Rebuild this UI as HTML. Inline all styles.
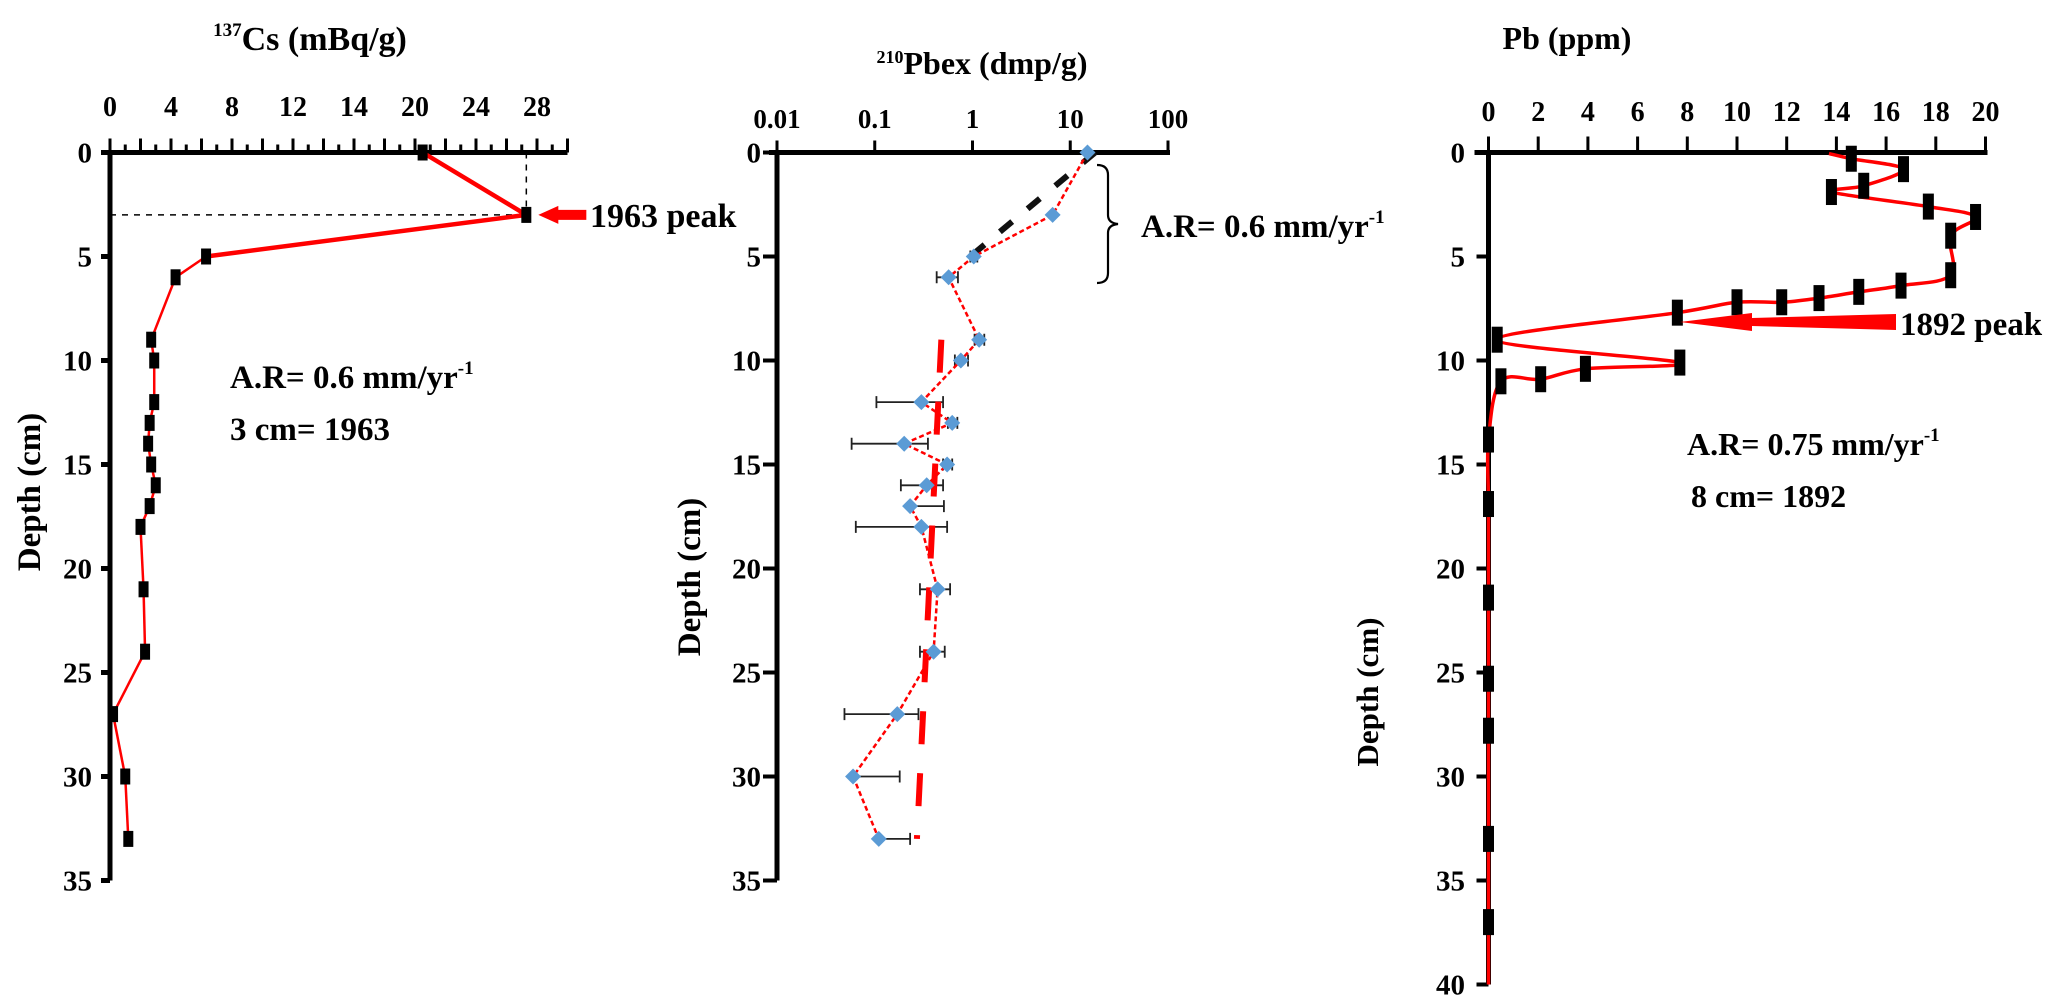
<!DOCTYPE html>
<html><head><meta charset="utf-8">
<style>
html,body{margin:0;padding:0;background:#fff;}
svg{display:block;font-family:"Liberation Serif",serif;font-weight:bold;}
</style></head>
<body>
<svg id="chart" width="2067" height="1007" viewBox="0 0 2067 1007" xmlns="http://www.w3.org/2000/svg">
<g id="p1"></g>
<g id="p2"></g>
<g id="p3"></g>
</svg>
<script>
// ---------- Panel 1: 137Cs ----------
const csDepth = [0, 3, 5, 6, 9, 10, 12, 13, 14, 15, 16, 17, 18, 21, 24, 27, 30, 33];
const csValue = [20.5, 27.3, 6.3, 4.3, 2.7, 2.9, 2.9, 2.6, 2.5, 2.7, 3.0, 2.6, 2.0, 2.2, 2.3, 0.2, 1.0, 1.2];
const csTickLabels = ["0", "4", "8", "12", "14", "20", "24", "28"];
const depthTicks1 = [0, 5, 10, 15, 20, 25, 30, 35];

// ---------- Panel 2: 210Pbex ----------
const pbxDepth = [0, 3, 5, 6, 9, 10, 12, 13, 14, 15, 16, 17, 18, 21, 24, 27, 30, 33];
const pbxValue = [15, 6.6, 1.03, 0.57, 1.17, 0.76, 0.30, 0.62, 0.20, 0.55, 0.34, 0.23, 0.30, 0.44, 0.40, 0.17, 0.060, 0.11];
const pbxErrLo = [15, 6.6, 0.95, 0.43, 1.05, 0.66, 0.104, 0.56, 0.058, 0.50, 0.185, 0.23, 0.064, 0.29, 0.29, 0.049, 0.060, 0.11];
const pbxErrHi = [15, 6.6, 1.12, 0.71, 1.32, 0.90, 0.50, 0.70, 0.35, 0.62, 0.50, 0.51, 0.55, 0.59, 0.52, 0.28, 0.18, 0.23];
const pbxTickLabels = ["0.01", "0.1", "1", "10", "100"];
const pbxTickValues = [0.01, 0.1, 1, 10, 100];
const fitTopValue = [18, 0.75];
const fitTopDepth = [0, 5.4];
const fitLowValue = [0.48, 0.27];
const fitLowDepth = [9, 33];

// ---------- Panel 3: Pb ----------
const pbValue = [13.7, 14.6, 16.7, 15.1, 13.8, 17.7, 19.6, 18.6, 18.6, 16.6, 14.9, 13.3, 11.8, 10.0, 7.6, 0.35, 7.7, 3.9, 2.1, 0.5, 0.0, 0.0, 0.0, 0.0, 0.0, 0.0, 0.0];
const pbDepth = [0.05, 0.3, 0.8, 1.6, 1.9, 2.6, 3.1, 4.0, 5.9, 6.4, 6.7, 7.0, 7.2, 7.2, 7.7, 9.0, 10.1, 10.4, 10.9, 11.0, 13.8, 16.9, 21.4, 25.3, 27.8, 33.0, 37.0];
const pbMarker = [false, true, true, true, true, true, true, true, true, true, true, true, true, true, true, true, true, true, true, true, true, true, true, true, true, true, true];
const pbTickLabels = ["0","2","4","6","8","10","12","14","16","18","20"];
const depthTicks3 = [0, 5, 10, 15, 20, 25, 30, 35, 40];

const NS = "http://www.w3.org/2000/svg";
function mk(parent, tag, attrs, text) {
  const e = document.createElementNS(NS, tag);
  for (const k in attrs) e.setAttribute(k, attrs[k]);
  if (text !== undefined) e.textContent = text;
  parent.appendChild(e);
  return e;
}
const PXCM = 20.8, Y0 = 152.5;
function yD(d) { return Y0 + d * PXCM; }

// ===== Panel 1 =====
(function () {
  const g = document.getElementById("p1");
  const X0 = 110, S = 15.25;
  const xC = v => X0 + v * S;
  let t = mk(g, "text", {x: 310, y: 50, "font-size": 34, "text-anchor": "middle"});
  
  
  mk(t, "tspan", {"font-size": 19, dy: -14}, "137");
  mk(t, "tspan", {dy: 14}, "Cs (mBq/g)");
  let ax = mk(g, "line", {x1: X0 - 8, y1: Y0, x2: xC(30), y2: Y0, stroke: "#000", "stroke-width": 5});
  
  
  for (let v = 0; v <= 30; v++) {
    const tk = mk(g, "line", {x1: xC(v), y1: Y0, x2: xC(v), y2: Y0 - (v % 2 === 0 ? 14 : 8), stroke: "#000", "stroke-width": 3});
    
    
  }
  csTickLabels.forEach((lab, i) => {
    const e = mk(g, "text", {x: xC(i * 4), y: 116, "font-size": 28, "text-anchor": "middle"}, lab);
    
    
  });
  let ay = mk(g, "line", {x1: X0, y1: Y0 - 2, x2: X0, y2: yD(35), stroke: "#000", "stroke-width": 5});
  
  
  depthTicks1.forEach(d => {
    const tk = mk(g, "line", {x1: X0 - 9, y1: yD(d), x2: X0, y2: yD(d), stroke: "#000", "stroke-width": 5});
    
    
    const e = mk(g, "text", {x: 92, y: yD(d) + 10, "font-size": 29, "text-anchor": "end"}, String(d));
    
    
  });
  let yt = mk(g, "text", {x: 0, y: 0, "font-size": 33, "text-anchor": "middle", transform: "translate(40,492) rotate(-90)"}, "Depth (cm)");
  
  
  let pk = csValue.indexOf(Math.max(...csValue));
  let gh = mk(g, "line", {x1: X0, y1: yD(csDepth[pk]), x2: xC(csValue[pk]), y2: yD(csDepth[pk]), stroke: "#000", "stroke-width": 1.5, "stroke-dasharray": "6 6"});
  
  
  let gv = mk(g, "line", {x1: xC(csValue[pk]), y1: Y0, x2: xC(csValue[pk]), y2: yD(csDepth[pk]), stroke: "#000", "stroke-width": 1.5, "stroke-dasharray": "6 6"});
  
  
  for (let i = 0; i < csDepth.length - 1; i++) {
    const seg = mk(g, "line", {x1: xC(csValue[i]), y1: yD(csDepth[i]), x2: xC(csValue[i + 1]), y2: yD(csDepth[i + 1]), stroke: "#f00", "stroke-width": i < 2 ? 4.5 : 2.5});
    
    
  }
  csDepth.forEach((d, i) => {
    const m = mk(g, "rect", {x: xC(csValue[i]) - 5, y: yD(d) - 8, width: 10, height: 16, fill: "#000"});
    
    
  });
  const ax0 = xC(csValue[pk]) + 12, ay0 = yD(csDepth[pk]);
  let ar = mk(g, "polygon", {points: `${ax0},${ay0} ${ax0+20},${ay0-9} ${ax0+20},${ay0-5} ${ax0+48},${ay0-5} ${ax0+48},${ay0+5} ${ax0+20},${ay0+5} ${ax0+20},${ay0+9}`, fill: "#f00"});
  
  
  let pt = mk(g, "text", {x: 590, y: 227, "font-size": 34}, "1963 peak");
  
  
  let a1 = mk(g, "text", {x: 230, y: 388, "font-size": 33});
  
  
  mk(a1, "tspan", {}, "A.R= 0.6 mm/yr");
  mk(a1, "tspan", {"font-size": 19, dy: -14}, "-1");
  let a2 = mk(g, "text", {x: 230, y: 440, "font-size": 33}, "3 cm= 1963");
  
  
})();

// ===== Panel 2 =====
(function () {
  const g = document.getElementById("p2");
  const X0 = 777, DEC = 97.75;
  const xL = v => X0 + (Math.log10(v) + 2) * DEC;
  let t = mk(g, "text", {x: 982, y: 74, "font-size": 32, "text-anchor": "middle"});
  
  
  mk(t, "tspan", {"font-size": 18, dy: -11}, "210");
  mk(t, "tspan", {dy: 11}, "Pbex (dmp/g)");
  let ax = mk(g, "line", {x1: X0 - 8, y1: Y0, x2: xL(100) + 2, y2: Y0, stroke: "#000", "stroke-width": 5});
  
  
  pbxTickValues.forEach((v, i) => {
    const tk = mk(g, "line", {x1: xL(v), y1: Y0, x2: xL(v), y2: Y0 - 12, stroke: "#000", "stroke-width": 3});
    
    
    const e = mk(g, "text", {x: xL(v), y: 128, "font-size": 27, "text-anchor": "middle"}, pbxTickLabels[i]);
    
    
  });
  let ay = mk(g, "line", {x1: X0, y1: Y0 - 2, x2: X0, y2: yD(35), stroke: "#000", "stroke-width": 5});
  
  
  depthTicks1.forEach(d => {
    const tk = mk(g, "line", {x1: X0 - 14, y1: yD(d), x2: X0, y2: yD(d), stroke: "#000", "stroke-width": 4});
    
    
    const e = mk(g, "text", {x: 761, y: yD(d) + 10, "font-size": 29, "text-anchor": "end"}, String(d));
    
    
  });
  let yt = mk(g, "text", {x: 0, y: 0, "font-size": 33, "text-anchor": "middle", transform: "translate(700,577) rotate(-90)"}, "Depth (cm)");
  
  
  pbxDepth.forEach((d, i) => {
    if (pbxErrHi[i] - pbxErrLo[i] <= 0) return;
    const y = yD(d), a = xL(pbxErrLo[i]), b = xL(pbxErrHi[i]);
    const eb = mk(g, "path", {d: `M${a},${y}H${b}M${a},${y-6}V${y+6}M${b},${y-6}V${y+6}`, stroke: "#222", "stroke-width": 1.8, fill: "none"});
    
    
  });
  let f1 = mk(g, "line", {x1: xL(fitTopValue[0]), y1: yD(fitTopDepth[0]), x2: xL(fitTopValue[1]), y2: yD(fitTopDepth[1]), stroke: "#111", "stroke-width": 6, "stroke-dasharray": "16 20"});
  
  
  let f2 = mk(g, "line", {x1: xL(fitLowValue[0]), y1: yD(fitLowDepth[0]), x2: xL(fitLowValue[1]), y2: yD(fitLowDepth[1]), stroke: "#f00", "stroke-width": 6, "stroke-dasharray": "33 29"});
  
  
  let dpath = pbxDepth.map((d, i) => (i ? "L" : "M") + xL(pbxValue[i]).toFixed(1) + "," + yD(d).toFixed(1)).join("");
  let pl = mk(g, "path", {d: dpath, stroke: "#f00", "stroke-width": 2.5, fill: "none", "stroke-dasharray": "5 3"});
  
  
  pbxDepth.forEach((d, i) => {
    const x = xL(pbxValue[i]), y = yD(d);
    const m = mk(g, "polygon", {points: `${x},${y-8} ${x+8},${y} ${x},${y+8} ${x-8},${y}`, fill: "#5b9bd5"});
    
    
  });
  let br = mk(g, "path", {d: "M1097,165 Q1108,165 1108,175 V215 Q1108,223 1118,224 Q1108,225 1108,233 V273 Q1108,283 1097,283", stroke: "#000", "stroke-width": 2.2, fill: "none"});
  
  
  let a1 = mk(g, "text", {x: 1141, y: 237, "font-size": 33});
  
  
  mk(a1, "tspan", {}, "A.R= 0.6 mm/yr");
  mk(a1, "tspan", {"font-size": 19, dy: -14}, "-1");
})();

// ===== Panel 3 =====
(function () {
  const g = document.getElementById("p3");
  const X0 = 1488.5, S = 24.85;
  const xP = v => X0 + v * S;
  let t = mk(g, "text", {x: 1567, y: 49, "font-size": 32, "text-anchor": "middle"}, "Pb (ppm)");
  
  
  let ax = mk(g, "line", {x1: X0 - 14, y1: Y0, x2: xP(20) + 2, y2: Y0, stroke: "#000", "stroke-width": 5});
  
  
  pbTickLabels.forEach((lab, i) => {
    const tk = mk(g, "line", {x1: xP(i * 2), y1: Y0, x2: xP(i * 2), y2: Y0 - 16, stroke: "#000", "stroke-width": 3});
    
    
    const e = mk(g, "text", {x: xP(i * 2), y: 121, "font-size": 28, "text-anchor": "middle"}, lab);
    
    
  });
  let ay = mk(g, "line", {x1: X0, y1: Y0 - 2, x2: X0, y2: yD(40), stroke: "#000", "stroke-width": 5});
  
  
  depthTicks3.forEach(d => {
    const tk = mk(g, "line", {x1: X0 - 12, y1: yD(d), x2: X0, y2: yD(d), stroke: "#000", "stroke-width": 4});
    
    
    const e = mk(g, "text", {x: 1465, y: yD(d) + 10, "font-size": 29, "text-anchor": "end"}, String(d));
    
    
  });
  let yt = mk(g, "text", {x: 0, y: 0, "font-size": 31, "text-anchor": "middle", transform: "translate(1378,692) rotate(-90)"}, "Depth (cm)");
  
  
  const P = pbDepth.map((d, i) => [xP(pbValue[i]), yD(d)]);
  P.push([xP(0), yD(40)]);
  let dstr = "M" + P[0][0] + "," + P[0][1];
  for (let i = 0; i < P.length - 1; i++) {
    const p0 = P[Math.max(i - 1, 0)], p1 = P[i], p2 = P[i + 1], p3 = P[Math.min(i + 2, P.length - 1)];
    const c1 = [p1[0] + (p2[0] - p0[0]) / 6, p1[1] + (p2[1] - p0[1]) / 6];
    const c2 = [p2[0] - (p3[0] - p1[0]) / 6, p2[1] - (p3[1] - p1[1]) / 6];
    dstr += `C${c1[0].toFixed(1)},${c1[1].toFixed(1)} ${c2[0].toFixed(1)},${c2[1].toFixed(1)} ${p2[0].toFixed(1)},${p2[1].toFixed(1)}`;
  }
  let cv = mk(g, "path", {d: dstr, stroke: "#f00", "stroke-width": 3.5, fill: "none"});
  
  
  pbDepth.forEach((d, i) => {
    if (!pbMarker[i]) return;
    const m = mk(g, "rect", {x: xP(pbValue[i]) - 5.5, y: yD(d) - 13, width: 11, height: 26, fill: "#000"});
    
    
  });
  let ar = mk(g, "polygon", {points: "1680,322 1752,313 1752,318 1896,314 1896,330 1752,326 1752,331", fill: "#f00"});
  
  
  let pt = mk(g, "text", {x: 1900, y: 335, "font-size": 33}, "1892 peak");
  
  
  let a1 = mk(g, "text", {x: 1687, y: 455, "font-size": 32});
  
  
  mk(a1, "tspan", {}, "A.R= 0.75 mm/yr");
  mk(a1, "tspan", {"font-size": 19, dy: -14}, "-1");
  let a2 = mk(g, "text", {x: 1691, y: 507, "font-size": 32}, "8 cm= 1892");
  
  
})();
</script>
</body></html>
